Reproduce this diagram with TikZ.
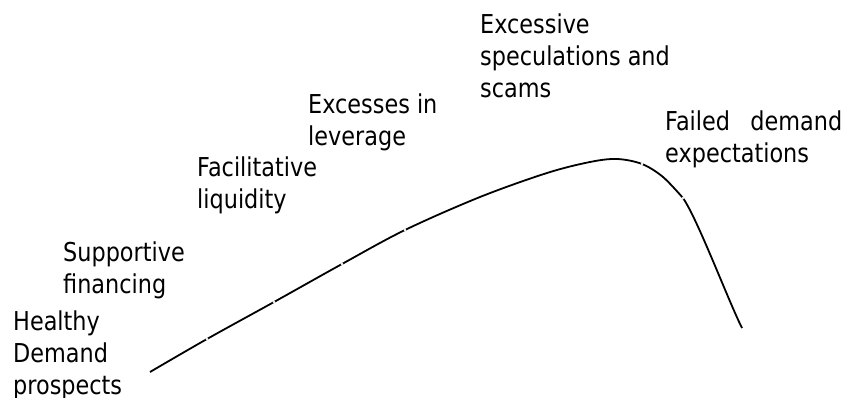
\documentclass[tikz,border=0pt]{standalone}
\usepackage{fontspec}
\setmainfont{DejaVu Sans}[FakeStretch=0.86]
\begin{document}
\begin{tikzpicture}[x=1pt,y=-1pt,
  lbl/.style={anchor=base west,inner sep=0pt,align=left,font=\fontsize{26}{32}\selectfont},
  curveline/.style={line width=1.8pt,line cap=butt},
  gapmark/.style={fill=white}]
\useasboundingbox (0,0) rectangle (851,397);
\node[lbl] (hd) at (13,394) {Healthy\\Demand\\prospects};
\node[lbl] (sf) at (63,293) {Supportive\\financing};
\node[lbl] (fl) at (197,208) {Facilitative\\liquidity};
\node[lbl] (el) at (308,145) {Excesses in\\leverage};
\node[lbl] (es) at (480,97) {Excessive\\speculations and\\scams};
\node[lbl] (fd) at (665,162) {\makebox[177pt][s]{Failed demand}\\expectations};
\draw[curveline] plot[smooth,tension=0.55] coordinates {
  (150,372) (207,339) (274,302) (342,264) (405,230) (480,197) (547,173)
  (590,162) (617,159) (642,164) (663,177) (683,198)}
  .. controls (698,220) and (728,300) .. (742,328);
\foreach \p in {(207,339),(274,302),(342,264),(405,230),(642,164),(683,198)}
  \fill[gapmark] \p circle (1.4pt);
\end{tikzpicture}
\end{document}
